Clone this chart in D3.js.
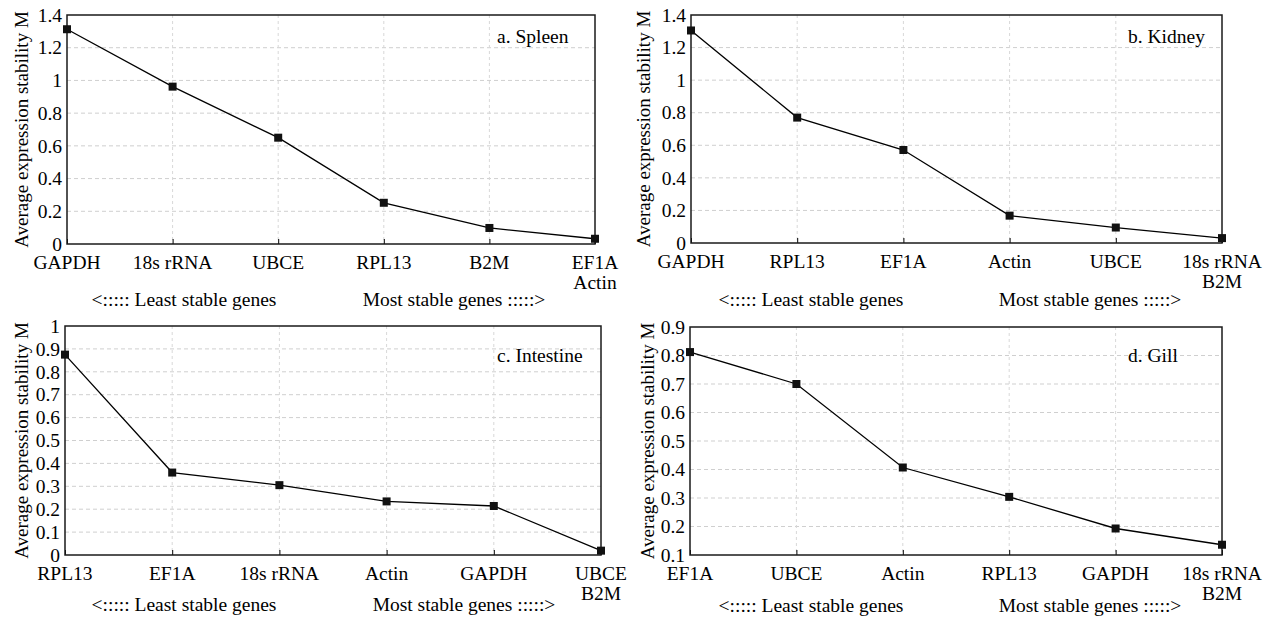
<!DOCTYPE html>
<html>
<head>
<meta charset="utf-8">
<script src="https://cdn.jsdelivr.net/npm/d3@7"></script>
<style>
  body { margin: 0; background: #fff; }
  svg, svg text { font-family: "Liberation Serif", "DejaVu Serif", "Noto Serif", "Times New Roman", serif; }
</style>
</head>
<body>
<div class="graph"></div>
<script>
// genes ordered from least stable (left) to most stable (right)
// "\n" splits a label onto two lines
var spleenGenes = ["GAPDH", "18s rRNA", "UBCE", "RPL13", "B2M", "EF1A\nActin"];
var spleenM = [1.313, 0.962, 0.65, 0.252, 0.098, 0.032];

var kidneyGenes = ["GAPDH", "RPL13", "EF1A", "Actin", "UBCE", "18s rRNA\nB2M"];
var kidneyM = [1.305, 0.77, 0.571, 0.168, 0.095, 0.03];

var intestineGenes = ["RPL13", "EF1A", "18s rRNA", "Actin", "GAPDH", "UBCE\nB2M"];
var intestineM = [0.875, 0.36, 0.305, 0.234, 0.214, 0.019];

var gillGenes = ["EF1A", "UBCE", "Actin", "RPL13", "GAPDH", "18s rRNA\nB2M"];
var gillM = [0.812, 0.70, 0.407, 0.304, 0.193, 0.136];

// y tick labels
var ticksSpleen = [0, 0.2, 0.4, 0.6, 0.8, 1, 1.2, 1.4];
var ticksKidney = [0, 0.2, 0.4, 0.6, 0.8, 1, 1.2, 1.4];
var ticksIntestine = [0, 0.1, 0.2, 0.3, 0.4, 0.5, 0.6, 0.7, 0.8, 0.9, 1];
var ticksGill = [0.1, 0.2, 0.3, 0.4, 0.5, 0.6, 0.7, 0.8, 0.9];

var titles = ["a. Spleen", "b. Kidney", "c. Intestine", "d. Gill"];
var yLabel = "Average expression stability M";
var leastText = "<::::: Least stable genes";
var mostText = "Most stable genes :::::>";

var fontFamily = "'Liberation Serif', 'DejaVu Serif', 'Noto Serif', 'Times New Roman', serif";
var fontSize = 19.5;

var svg = d3.select(".graph").append("svg")
    .attr("width", 1265)
    .attr("height", 622)
    .attr("font-family", fontFamily);

// where each panel sits on the page (plot area box) and where its texts go
var panels = [
  {genes: spleenGenes, m: spleenM, ticks: ticksSpleen, title: titles[0],
   left: 67, right: 595, top: 15, bottom: 244,
   ylabX: 21, titleX: 497, titleY: 43, footY: 306, leastX: 184, mostX: 454},
  {genes: kidneyGenes, m: kidneyM, ticks: ticksKidney, title: titles[1],
   left: 691, right: 1222, top: 15, bottom: 243,
   ylabX: 643, titleX: 1128, titleY: 43, footY: 306, leastX: 811, mostX: 1090},
  {genes: intestineGenes, m: intestineM, ticks: ticksIntestine, title: titles[2],
   left: 65, right: 601, top: 326, bottom: 555,
   ylabX: 21, titleX: 497, titleY: 362, footY: 611, leastX: 184, mostX: 464},
  {genes: gillGenes, m: gillM, ticks: ticksGill, title: titles[3],
   left: 690, right: 1222, top: 327, bottom: 555,
   ylabX: 647, titleX: 1128, titleY: 362, footY: 612, leastX: 811, mostX: 1090}
];

function drawPanel(p) {

    var g = svg.append("g");

    var x = d3.scalePoint()
        .domain(p.genes)
        .range([p.left, p.right])
        .padding(0);

    var y = d3.scaleLinear()
        .domain([p.ticks[0], p.ticks[p.ticks.length - 1]])
        .range([p.bottom, p.top]);

    // horizontal grid
    g.append("g").selectAll("line")
        .data(p.ticks.slice(1, -1))
        .enter().append("line")
        .attr("x1", p.left).attr("x2", p.right)
        .attr("y1", function(d) { return y(d); })
        .attr("y2", function(d) { return y(d); })
        .attr("stroke", "#cfcfcf")
        .attr("stroke-width", 1)
        .attr("stroke-dasharray", "4,3");

    // vertical grid
    g.append("g").selectAll("line")
        .data(p.genes.slice(1, -1))
        .enter().append("line")
        .attr("x1", function(d) { return x(d); })
        .attr("x2", function(d) { return x(d); })
        .attr("y1", p.top).attr("y2", p.bottom)
        .attr("stroke", "#d8d8d8")
        .attr("stroke-width", 1)
        .attr("stroke-dasharray", "3,3");

    // y axis (labels only, frame drawn below)
    var yAxis = d3.axisLeft(y)
        .tickValues(p.ticks)
        .tickFormat(function(d) { return String(d); })
        .tickSize(0)
        .tickPadding(5);

    var ya = g.append("g")
        .attr("transform", "translate(" + p.left + ",0)")
        .call(yAxis)
        .attr("font-family", fontFamily)
        .attr("font-size", fontSize);
    ya.select(".domain").remove();
    ya.selectAll("text").attr("fill", "#000");

    // x axis with short ticks pointing inside
    var xAxis = d3.axisBottom(x)
        .tickSize(-5)
        .tickFormat("");

    var xa = g.append("g")
        .attr("transform", "translate(0," + p.bottom + ")")
        .call(xAxis);
    xa.select(".domain").remove();
    xa.selectAll("line").attr("stroke", "#000");

    // gene labels, possibly on two lines
    var lab = g.append("g").selectAll("text")
        .data(p.genes)
        .enter().append("text")
        .attr("x", function(d) { return x(d); })
        .attr("y", p.bottom + 24.5)
        .attr("text-anchor", "middle")
        .attr("font-size", fontSize)
        .attr("fill", "#000");
    lab.selectAll("tspan")
        .data(function(d) { return d.split("\n"); })
        .enter().append("tspan")
        .attr("x", function() { return x(this.parentNode.__data__); })
        .attr("dy", function(d, i) { return i === 0 ? 0 : 20; })
        .text(function(d) { return d; });

    // frame
    g.append("rect")
        .attr("x", p.left).attr("y", p.top)
        .attr("width", p.right - p.left)
        .attr("height", p.bottom - p.top)
        .attr("fill", "none")
        .attr("stroke", "#1a1a1a")
        .attr("stroke-width", 1.5);

    // line + square markers
    var pts = p.genes.map(function(d, i) { return {gene: d, m: p.m[i]}; });

    var line = d3.line()
        .x(function(d) { return x(d.gene); })
        .y(function(d) { return y(d.m); });

    g.append("path")
        .datum(pts)
        .attr("d", line)
        .attr("fill", "none")
        .attr("stroke", "#000")
        .attr("stroke-width", 1.3);

    g.append("g").selectAll("rect")
        .data(pts)
        .enter().append("rect")
        .attr("x", function(d) { return x(d.gene) - 4; })
        .attr("y", function(d) { return y(d.m) - 4; })
        .attr("width", 8)
        .attr("height", 8)
        .attr("fill", "#111");

    // y label
    g.append("text")
        .attr("transform", "translate(" + p.ylabX + "," + ((p.top + p.bottom) / 2) + ") rotate(-90)")
        .attr("text-anchor", "middle")
        .attr("dominant-baseline", "central")
        .attr("font-size", 19)
        .text(yLabel);

    // panel title
    g.append("text")
        .attr("x", p.titleX)
        .attr("y", p.titleY)
        .attr("font-size", fontSize)
        .text(p.title);

    // stability hints under the axis
    g.append("text")
        .attr("x", p.leastX).attr("y", p.footY)
        .attr("text-anchor", "middle")
        .attr("font-size", fontSize)
        .text(leastText);

    g.append("text")
        .attr("x", p.mostX).attr("y", p.footY)
        .attr("text-anchor", "middle")
        .attr("font-size", fontSize)
        .text(mostText);
}

panels.forEach(drawPanel);
</script>
</body>
</html>
